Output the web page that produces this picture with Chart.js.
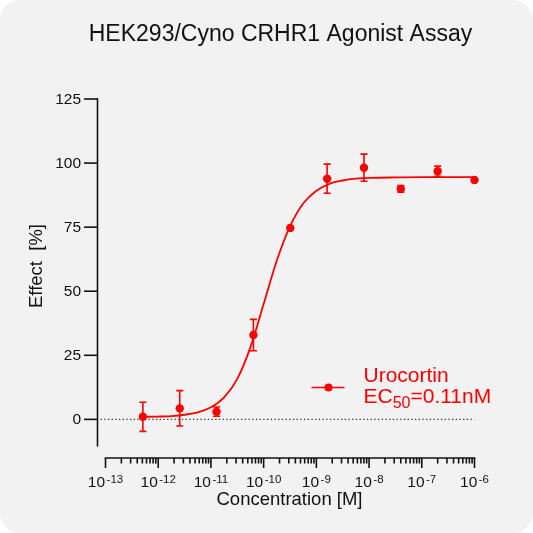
<!DOCTYPE html>
<html>
<head>
<meta charset="utf-8">
<script src="https://cdn.jsdelivr.net/npm/chart.js@4.4.1/dist/chart.umd.min.js"></script>
<style>
html,body{margin:0;padding:0;background:#ffffff;}
#wrap{position:relative;width:533px;height:533px;background:#f2f2f2;border-radius:20px;overflow:hidden;}
canvas{display:block;}
</style>
</head>
<body>
<div id="wrap"><canvas id="doseChart" width="533" height="533"></canvas></div>
<script>
// ===========================
// DATA
// ===========================

const chartTitle = "HEK293/Cyno CRHR1 Agonist Assay";
const seriesName = "Urocortin";

// concentration [M] (5-fold dilution)
const conc = [5.12e-13, 2.56e-12, 1.28e-11, 6.4e-11, 3.2e-10, 1.6e-9, 8e-9, 4e-8, 2e-7, 1e-6];
// effect [%] mean and error
const effect = [1.0, 4.3, 3.0, 32.9, 74.7, 93.9, 98.2, 89.9, 96.8, 93.4];
const effectErr = [5.7, 6.9, 1.8, 6.1, 0, 5.7, 5.3, 1.3, 2.0, 0];

// fitted curve (log10 of concentration, effect %)
const curveLogX = [-12.29, -12.0, -11.75, -11.5, -11.25, -11.0, -10.75, -10.5, -10.25, -10.0,
                   -9.75, -9.5, -9.25, -9.0, -8.75, -8.5, -8.25, -8.0, -7.5, -7.0, -6.5, -6.0];
const curveY = [1.0, 1.1, 1.3, 1.8, 2.7, 4.7, 8.6, 15.8, 28.2, 45.0,
                62.0, 75.3, 84.2, 89.2, 91.9, 93.2, 93.9, 94.2, 94.4, 94.5, 94.5, 94.5];

// axis ticks
const yTicks = [0, 25, 50, 75, 100, 125];
const xTickExp = [-13, -12, -11, -10, -9, -8, -7, -6];

const RED = "#ff0000";
const INK = "#111111";
const FONT = "'Liberation Sans', Arial, sans-serif";

// ===========================
// AXES / DECOR PLUGIN
// ===========================

const axesPlugin = {
    id: "prismAxes",
    beforeDatasetsDraw(chart){
        const {ctx, chartArea, scales:{x, y}} = chart;
        ctx.save();

        // title
        ctx.fillStyle = INK;
        ctx.font = "23px " + FONT;
        ctx.textAlign = "center";
        ctx.textBaseline = "alphabetic";
        ctx.fillText(chartTitle, 280.5, 40.5);

        // y axis (offset left of plot)
        const xA = chartArea.left - 8;
        ctx.strokeStyle = INK;
        ctx.lineWidth = 1.6;
        ctx.beginPath();
        ctx.moveTo(xA, y.getPixelForValue(125) - 0.8);
        ctx.lineTo(xA, chartArea.bottom + 1.5);
        ctx.stroke();

        ctx.font = "15.5px " + FONT;
        ctx.textAlign = "right";
        ctx.textBaseline = "middle";
        yTicks.forEach(v=>{
            const py = y.getPixelForValue(v);
            ctx.beginPath();
            ctx.moveTo(xA - 13.5, py);
            ctx.lineTo(xA, py);
            ctx.stroke();
            ctx.fillText(String(v), xA - 16.5, py + 0.5);
        });

        // dotted zero line
        ctx.save();
        ctx.lineWidth = 1.2;
        ctx.strokeStyle = "#333333";
        ctx.setLineDash([1.3, 2.4]);
        ctx.beginPath();
        ctx.moveTo(xA + 3, y.getPixelForValue(0));
        ctx.lineTo(x.getPixelForValue(1e-6), y.getPixelForValue(0));
        ctx.stroke();
        ctx.restore();

        // x axis (offset below plot)
        const yA = chartArea.bottom + 13;
        const xFirst = x.getPixelForValue(Math.pow(10, xTickExp[0]));
        const xLast = x.getPixelForValue(Math.pow(10, xTickExp[xTickExp.length - 1]));
        ctx.beginPath();
        ctx.moveTo(xFirst - 0.8, yA);
        ctx.lineTo(xLast + 0.8, yA);
        ctx.stroke();

        xTickExp.forEach((e, i)=>{
            const px = x.getPixelForValue(Math.pow(10, e));
            ctx.beginPath();
            ctx.moveTo(px, yA);
            ctx.lineTo(px, yA + 10);
            ctx.stroke();
            if(i < xTickExp.length - 1){
                for(let m = 2; m <= 9; m++){
                    const pm = x.getPixelForValue(m * Math.pow(10, e));
                    ctx.beginPath();
                    ctx.moveTo(pm, yA);
                    ctx.lineTo(pm, yA + 5.5);
                    ctx.stroke();
                }
            }
        });

        // x tick labels 10^n
        ctx.textBaseline = "alphabetic";
        ctx.textAlign = "left";
        xTickExp.forEach(e=>{
            const px = x.getPixelForValue(Math.pow(10, e));
            ctx.font = "15.5px " + FONT;
            const wBase = ctx.measureText("10").width;
            ctx.font = "11.5px " + FONT;
            const sup = "-" + Math.abs(e);
            const wSup = ctx.measureText(sup).width;
            const x0 = px - (wBase + 1.5 + wSup) / 2;
            ctx.font = "15.5px " + FONT;
            ctx.fillText("10", x0, 486.5);
            ctx.font = "11.5px " + FONT;
            ctx.fillText(sup, x0 + wBase + 1.5, 482.5);
        });

        // axis titles
        ctx.font = "18.5px " + FONT;
        ctx.textAlign = "center";
        ctx.fillText("Concentration [M]", 289.5, 505);

        ctx.save();
        ctx.translate(41.5, 266);
        ctx.rotate(-Math.PI / 2);
        ctx.fillText("Effect  [%]", 0, 0);
        ctx.restore();

        ctx.restore();
    },
    afterDatasetsDraw(chart){
        const {ctx, scales:{x, y}} = chart;
        ctx.save();

        // error bars
        ctx.strokeStyle = RED;
        ctx.lineWidth = 1.6;
        conc.forEach((c, i)=>{
            if(!effectErr[i]) return;
            const px = x.getPixelForValue(c);
            const y1 = y.getPixelForValue(effect[i] + effectErr[i]);
            const y2 = y.getPixelForValue(effect[i] - effectErr[i]);
            ctx.beginPath();
            ctx.moveTo(px, y1); ctx.lineTo(px, y2);
            ctx.moveTo(px - 3.5, y1); ctx.lineTo(px + 3.5, y1);
            ctx.moveTo(px - 3.5, y2); ctx.lineTo(px + 3.5, y2);
            ctx.stroke();
        });

        // legend
        const ly = 387.5;
        ctx.beginPath();
        ctx.moveTo(311.5, ly);
        ctx.lineTo(344.5, ly);
        ctx.stroke();
        ctx.fillStyle = RED;
        ctx.beginPath();
        ctx.arc(328.5, ly, 4, 0, Math.PI * 2);
        ctx.fill();

        ctx.textAlign = "left";
        ctx.textBaseline = "alphabetic";
        ctx.font = "21px " + FONT;
        ctx.fillText(seriesName, 363.5, 381.8);
        ctx.fillText("EC", 363.5, 403.3);
        const wEC = ctx.measureText("EC").width;
        ctx.font = "16px " + FONT;
        ctx.fillText("50", 363.5 + wEC, 408.3);
        const w50 = ctx.measureText("50").width;
        ctx.font = "21px " + FONT;
        ctx.fillText("=0.11nM", 363.5 + wEC + w50, 403.3);

        ctx.restore();
    }
};

// ===========================
// CHART
// ===========================

const curveData = curveLogX.map((lx, i)=>({x: Math.pow(10, lx), y: curveY[i]}));
const pointData = conc.map((c, i)=>({x: c, y: effect[i]}));

const ctx = document.getElementById("doseChart").getContext("2d");

const doseChart = new Chart(ctx, {
    type: "scatter",
    data: {
        datasets: [
            {
                type: "line",
                label: "fit",
                data: curveData,
                borderColor: RED,
                borderWidth: 1.8,
                pointRadius: 0,
                cubicInterpolationMode: "monotone",
                fill: false,
                clip: false,
                order: 2
            },
            {
                label: seriesName,
                data: pointData,
                backgroundColor: RED,
                borderColor: RED,
                borderWidth: 0,
                pointRadius: 4.2,
                showLine: false,
                clip: false,
                order: 1
            }
        ]
    },
    options: {
        responsive: false,
        animation: false,
        devicePixelRatio: 1,
        layout: {padding: {left: 105.5, right: 58.5, top: 99, bottom: 88}},
        scales: {
            x: {type: "logarithmic", min: 1e-13, max: 1e-6, display: false},
            y: {type: "linear", min: -10, max: 125, display: false}
        },
        plugins: {
            legend: {display: false},
            tooltip: {enabled: false},
            title: {display: false}
        }
    },
    plugins: [axesPlugin]
});
</script>
</body>
</html>
